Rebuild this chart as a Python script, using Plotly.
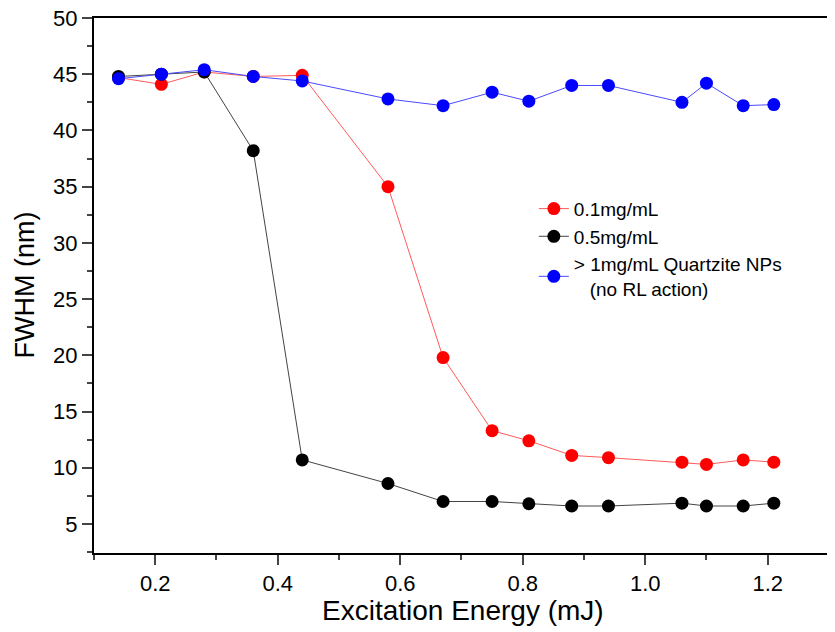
import plotly.graph_objects as go

x_red = [0.14, 0.21, 0.28, 0.36, 0.44, 0.58, 0.67, 0.75, 0.81, 0.88, 0.94, 1.06, 1.10, 1.16, 1.21]
y_red = [44.7, 44.1, 45.2, 44.8, 44.9, 35.0, 19.8, 13.3, 12.4, 11.1, 10.9, 10.5, 10.3, 10.7, 10.5]

x_black = [0.14, 0.21, 0.28, 0.36, 0.44, 0.58, 0.67, 0.75, 0.81, 0.88, 0.94, 1.06, 1.10, 1.16, 1.21]
y_black = [44.8, 45.0, 45.2, 38.2, 10.7, 8.6, 7.0, 7.0, 6.8, 6.6, 6.6, 6.85, 6.6, 6.6, 6.85]

x_blue = [0.14, 0.21, 0.28, 0.36, 0.44, 0.58, 0.67, 0.75, 0.81, 0.88, 0.94, 1.06, 1.10, 1.16, 1.21]
y_blue = [44.6, 45.0, 45.4, 44.8, 44.4, 42.8, 42.2, 43.4, 42.6, 44.0, 44.0, 42.5, 44.2, 42.2, 42.3]

names = ["0.1mg/mL", "0.5mg/mL", "> 1mg/mL Quartzite NPs<br>   (no RL action)"]
x_title = "Excitation Energy (mJ)"
y_title = "FWHM (nm)"

fig = go.Figure()
series = [
    (x_red, y_red, names[0], "#ff0000", "#ff5a5a"),
    (x_black, y_black, names[1], "#000000", "#444444"),
    (x_blue, y_blue, names[2], "#0000ff", "#4a4aff"),
]
for xs, ys, nm, mc, lc in series:
    fig.add_trace(go.Scatter(
        x=xs, y=ys, name=nm, mode="lines+markers",
        line=dict(color=lc, width=1),
        marker=dict(color=mc, size=13, line=dict(color=mc, width=0)),
    ))

fig.update_layout(
    width=835, height=632,
    margin=dict(l=86, r=11, t=10, b=87),
    plot_bgcolor="white", paper_bgcolor="white",
    font=dict(family="Liberation Sans, Arial, sans-serif", color="black"),
    legend=dict(x=0.596, y=0.679, xanchor="left", yanchor="top",
                font=dict(size=19), bgcolor="rgba(0,0,0,0)",
                tracegroupgap=0),
    xaxis=dict(
        range=[0.1, 1.305], dtick=0.2, tick0=0.2,
        tickformat=".1f", automargin=False, ticklabeloverflow="allow",
        ticks="outside", ticklen=10, tickwidth=2,
        minor=dict(dtick=0.1, tick0=0.1, ticks="outside", ticklen=5, tickwidth=2),
        showline=True, linewidth=2, linecolor="black", mirror=True,
        showgrid=False, zeroline=False,
        tickfont=dict(size=22),
    ),
    yaxis=dict(
        range=[2.42, 50], dtick=5, tick0=0, automargin=False,
        ticklabeloverflow="allow",
        ticks="outside", ticklen=10, tickwidth=2,
        minor=dict(dtick=2.5, tick0=0, ticks="outside", ticklen=5, tickwidth=2),
        showline=True, linewidth=2, linecolor="black", mirror=True,
        showgrid=False, zeroline=False,
        tickfont=dict(size=22),
    ),
    annotations=[
        dict(text=x_title, xref="paper", yref="paper", x=0.5, y=0,
             xanchor="center", yanchor="middle", yshift=-57,
             showarrow=False, font=dict(size=28)),
        dict(text=y_title, xref="paper", yref="paper", x=0, y=0.5,
             xanchor="center", yanchor="middle", xshift=-70, textangle=-90,
             showarrow=False, font=dict(size=27)),
    ],
)

fig.write_html("out.html")
